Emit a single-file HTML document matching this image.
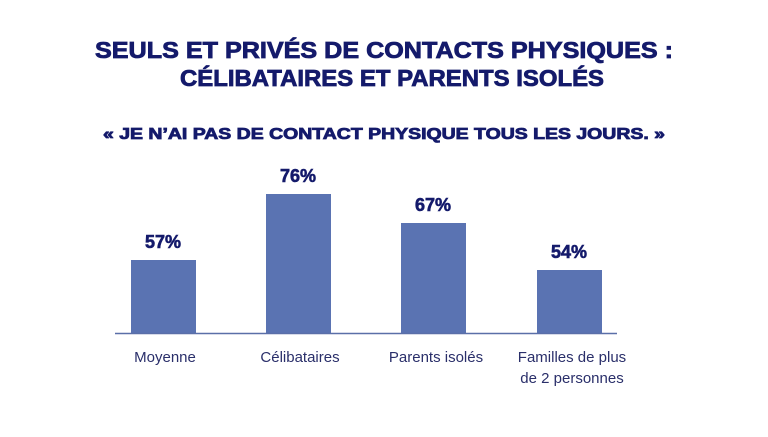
<!DOCTYPE html>
<html><head><meta charset="utf-8"><style>
body{margin:0;width:768px;height:432px;background:#fff;overflow:hidden;font-family:"Liberation Sans",sans-serif;}
</style></head><body>
<svg width="768" height="432" xmlns="http://www.w3.org/2000/svg">
<g font-family="Liberation Sans, sans-serif" font-weight="bold" fill="#141a6b" stroke="#141a6b" stroke-width="0.8" text-anchor="middle">
<text x="384" y="58" font-size="23" textLength="578" lengthAdjust="spacingAndGlyphs">SEULS ET PRIVÉS DE CONTACTS PHYSIQUES :</text>
<text x="392" y="86" font-size="23" textLength="424" lengthAdjust="spacingAndGlyphs">CÉLIBATAIRES ET PARENTS ISOLÉS</text>
<text x="384" y="139" font-size="15.5" textLength="562" lengthAdjust="spacingAndGlyphs">« JE N’AI PAS DE CONTACT PHYSIQUE TOUS LES JOURS. »</text>
<text x="163" y="248" font-size="18" stroke-width="0.6">57%</text>
<text x="298" y="182" font-size="18" stroke-width="0.6">76%</text>
<text x="433" y="211" font-size="18" stroke-width="0.6">67%</text>
<text x="569" y="258" font-size="18" stroke-width="0.6">54%</text>
</g>
<g fill="#5a73b2">
<rect x="131" y="260" width="65" height="73"/>
<rect x="266" y="194" width="65" height="139"/>
<rect x="401" y="223" width="65" height="110"/>
<rect x="537" y="270" width="65" height="63"/>
</g>
<line x1="115" y1="333.5" x2="617" y2="333.5" stroke="#5a6fa8" stroke-width="1.5"/>
<g font-family="Liberation Sans, sans-serif" font-size="15" fill="#2a2f6a" text-anchor="middle">
<text x="165" y="362">Moyenne</text>
<text x="300" y="362">Célibataires</text>
<text x="436" y="362">Parents isolés</text>
<text x="572" y="362">Familles de plus</text>
<text x="572" y="383">de 2 personnes</text>
</g>
</svg>
</body></html>
